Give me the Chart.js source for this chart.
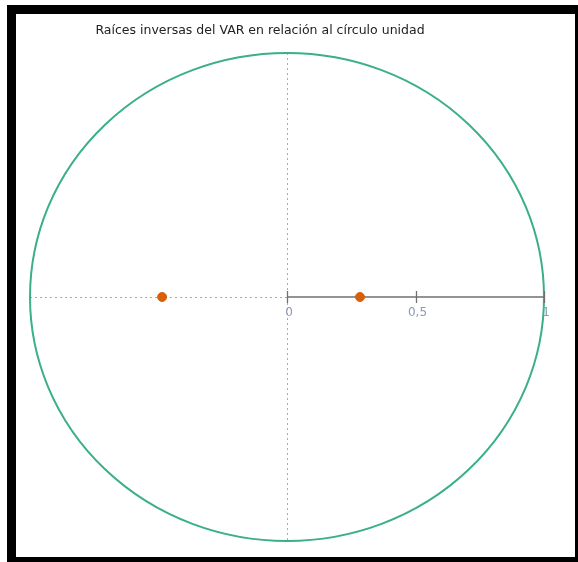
<!DOCTYPE html>
<html>
<head>
<meta charset="utf-8">
<script src="https://cdn.jsdelivr.net/npm/chart.js@4.4.1/dist/chart.umd.min.js"></script>
<style>
  html, body { margin: 0; padding: 0; background: #fff; }
  #frame {
    position: absolute;
    left: 7px; top: 5px;
    width: 559px; height: 543px;
    border-style: solid;
    border-color: #000;
    border-width: 9px 3px 5px 9px;
    background: #fff;
  }
  #rootsChart { display: block; }
</style>
</head>
<body>
<div id="frame">
  <canvas id="rootsChart" width="559" height="543"></canvas>
</div>
<script>
// inverse roots of the VAR (real, imaginary)
const rootRe = [-0.486, 0.284];
const rootIm = [0, 0];

const tickValues = [0, 0.5, 1];
const tickLabels = ["0", "0,5", "1"];

const chartTitle = "Raíces inversas del VAR en relación al círculo unidad";

const circlePlugin = {
  id: "unitCircle",
  beforeDatasetsDraw(chart) {
    const { ctx, scales: { x, y } } = chart;
    const cx = x.getPixelForValue(0);
    const cy = y.getPixelForValue(0);
    const rx = x.getPixelForValue(1) - cx;
    const ry = cy - y.getPixelForValue(1);

    ctx.save();

    // dotted reference lines
    ctx.strokeStyle = "#aaaaaa";
    ctx.lineWidth = 1;
    ctx.setLineDash([2, 3]);
    ctx.beginPath();
    ctx.moveTo(Math.round(cx) + 0.5, y.getPixelForValue(1));
    ctx.lineTo(Math.round(cx) + 0.5, y.getPixelForValue(-1));
    ctx.moveTo(x.getPixelForValue(-1), Math.round(cy) + 0.5);
    ctx.lineTo(cx, Math.round(cy) + 0.5);
    ctx.stroke();
    ctx.setLineDash([]);

    // unit circle
    ctx.strokeStyle = "#3aaf8a";
    ctx.lineWidth = 2;
    ctx.beginPath();
    ctx.ellipse(cx, cy, rx, ry, 0, 0, Math.PI * 2);
    ctx.stroke();

    // axis from 0 to 1 with ticks
    ctx.strokeStyle = "#707070";
    ctx.lineWidth = 1.3;
    ctx.beginPath();
    ctx.moveTo(cx, cy);
    ctx.lineTo(x.getPixelForValue(1), cy);
    tickValues.forEach(v => {
      const px = Math.round(x.getPixelForValue(v)) + 0.5;
      ctx.moveTo(px, cy - 6);
      ctx.lineTo(px, cy + 6);
    });
    ctx.stroke();

    ctx.fillStyle = "#8a9ab0";
    ctx.font = "12px 'DejaVu Sans'";
    ctx.textAlign = "center";
    ctx.textBaseline = "middle";
    tickValues.forEach((v, i) => {
      ctx.fillText(tickLabels[i], x.getPixelForValue(v) + 2, cy + 16);
    });

    // title
    ctx.fillStyle = "#222";
    ctx.font = "12.5px 'DejaVu Sans'";
    ctx.fillText(chartTitle, 244, 17);

    ctx.restore();
  }
};

new Chart(document.getElementById("rootsChart"), {
  type: "scatter",
  data: {
    datasets: [{
      label: "Raíces",
      data: rootRe.map((re, i) => ({ x: re, y: rootIm[i] })),
      backgroundColor: "#d9600a",
      borderColor: "#d9600a",
      pointRadius: 4.5,
      pointHoverRadius: 4.5
    }]
  },
  options: {
    responsive: false,
    animation: false,
    layout: { padding: { left: 14, right: 31, top: 39, bottom: 16 } },
    plugins: {
      legend: { display: false },
      title: { display: false },
      tooltip: { enabled: false }
    },
    scales: {
      x: { type: "linear", min: -1, max: 1, display: false },
      y: { type: "linear", min: -1, max: 1, display: false }
    }
  },
  plugins: [circlePlugin]
});
</script>
</body>
</html>
